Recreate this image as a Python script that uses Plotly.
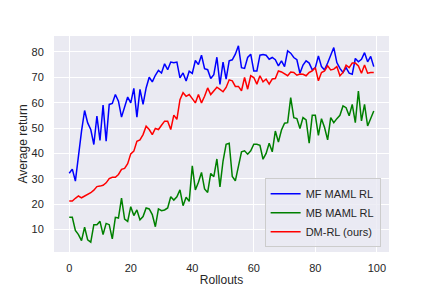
import plotly.graph_objects as go

rollouts = list(range(100))

mf_maml_rl = [32.2, 33.8, 29.1, 39.6, 48.8, 56.9, 52.0, 49.4, 43.5, 54.7,
              45.1, 59.0, 44.8, 59.3, 59.7, 63.2, 60.6, 54.3, 58.0, 62.2,
              59.9, 65.6, 54.3, 65.2, 59.3, 65.8, 70.0, 68.2, 70.8, 72.7,
              71.7, 75.3, 73.0, 76.0, 75.7, 76.0, 69.8, 71.7, 68.5, 72.4,
              71.5, 76.6, 75.0, 78.7, 73.4, 73.0, 69.5, 71.0, 77.9, 67.2,
              76.0, 69.3, 76.5, 76.9, 79.1, 82.4, 73.8, 73.5, 77.8, 79.1,
              72.5, 72.5, 78.7, 79.0, 78.7, 77.1, 77.8, 76.9, 74.5, 76.5,
              74.2, 80.4, 79.5, 77.8, 76.9, 71.6, 74.8, 76.5, 75.6, 72.9,
              73.8, 78.4, 74.2, 72.9, 75.6, 79.1, 81.7, 75.8, 73.5, 71.9,
              73.8, 71.6, 71.2, 77.4, 76.1, 77.1, 79.7, 76.1, 78.2, 74.2]

mb_maml_rl = [14.8, 14.8, 9.6, 8.0, 5.6, 10.9, 5.9, 5.0, 11.9, 11.9,
              13.2, 8.0, 12.4, 11.9, 6.3, 14.8, 14.5, 22.4, 14.1, 13.2,
              19.0, 15.5, 17.7, 13.8, 15.1, 18.5, 18.1, 15.9, 11.1, 18.1,
              17.4, 17.7, 18.5, 22.9, 21.6, 22.9, 25.6, 19.4, 22.7, 21.1,
              35.1, 25.6, 28.6, 32.5, 26.0, 24.6, 32.1, 30.8, 37.8, 26.8,
              37.0, 43.6, 44.0, 30.9, 29.2, 35.1, 40.6, 41.0, 39.7, 41.0,
              43.6, 43.6, 43.2, 37.7, 40.0, 44.0, 40.6, 48.8, 44.5, 49.2,
              51.9, 52.1, 62.0, 54.1, 53.7, 49.8, 54.1, 53.2, 44.0, 55.0,
              55.0, 47.1, 53.7, 50.2, 45.3, 54.1, 52.1, 53.7, 55.0, 58.7,
              58.0, 54.8, 59.3, 52.1, 64.6, 52.8, 59.3, 50.8, 54.1, 56.7]

dm_rl = [21.2, 21.2, 22.3, 23.2, 22.5, 23.2, 23.6, 24.5, 25.5, 26.9,
         27.1, 27.4, 28.4, 30.1, 30.6, 30.6, 31.7, 33.7, 34.1, 35.9,
         39.8, 40.9, 44.8, 45.3, 47.4, 50.7, 49.4, 47.4, 49.8, 49.4,
         51.1, 52.7, 52.7, 49.4, 55.1, 53.4, 61.2, 63.9, 62.5, 63.2,
         61.6, 59.9, 63.2, 59.9, 62.5, 65.8, 63.2, 64.8, 66.1, 65.2,
         64.3, 66.0, 69.0, 68.6, 66.4, 66.4, 64.7, 69.9, 65.3, 70.6,
         69.9, 67.3, 70.6, 68.2, 69.3, 67.3, 69.3, 69.5, 72.5, 72.1,
         71.2, 70.6, 72.1, 71.9, 70.8, 71.3, 71.2, 70.6, 71.9, 72.5,
         73.8, 68.6, 71.9, 72.5, 74.5, 72.9, 73.2, 74.2, 70.6, 71.9,
         74.8, 73.8, 75.6, 75.6, 74.5, 71.6, 74.8, 71.6, 71.9, 71.9]

series = [("MF MAML RL", mf_maml_rl, "blue"),
          ("MB MAML RL", mb_maml_rl, "green"),
          ("DM-RL (ours)", dm_rl, "red")]

x_ticks = [0, 20, 40, 60, 80, 100]
y_ticks = [10, 20, 30, 40, 50, 60, 70, 80]

fig = go.Figure()
for name, vals, color in series:
    fig.add_trace(go.Scatter(x=rollouts, y=vals, mode="lines", name=name,
                             line=dict(color=color, width=1.5)))

all_vals = mf_maml_rl + mb_maml_rl + dm_rl
ymin, ymax = min(all_vals), max(all_vals)
yspan = ymax - ymin
xmin, xmax = min(rollouts), max(rollouts)
xspan = xmax - xmin

font_family = "Liberation Sans, Arial, DejaVu Sans, sans-serif"
txt = "#262626"

fig.update_layout(
    width=432, height=288,
    margin=dict(l=54, r=42.5, t=36, b=36, autoexpand=False),
    paper_bgcolor="white",
    plot_bgcolor="#EAEAF2",
    font=dict(family=font_family, size=11, color=txt),
    showlegend=True,
    legend=dict(x=0.975, y=0.022, xanchor="right", yanchor="bottom",
                bgcolor="rgba(234,234,242,0.8)", bordercolor="#cccccc",
                borderwidth=1, font=dict(size=11, color=txt),
                itemwidth=30, tracegroupgap=0),
)
fig.update_xaxes(
    range=[xmin - 0.05 * xspan, xmax + 0.05 * xspan],
    tickvals=x_ticks, showgrid=True, gridcolor="white", gridwidth=1,
    zeroline=False, showline=False, ticks="outside", ticklen=6,
    tickcolor="rgba(0,0,0,0)", automargin=False,
    title=dict(text="Rollouts", font=dict(size=12, color=txt), standoff=2),
)
fig.update_yaxes(
    range=[ymin - 0.05 * yspan, ymax + 0.05 * yspan],
    tickvals=y_ticks, showgrid=True, gridcolor="white", gridwidth=1,
    zeroline=False, showline=False, ticks="outside", ticklen=7,
    tickcolor="rgba(0,0,0,0)", automargin=False,
    title=dict(text="Average return", font=dict(size=12, color=txt), standoff=1),
)

fig.write_html("out.html",
               config={"displayModeBar": False},
               post_script="document.body.style.margin='0';document.body.style.overflow='hidden';")
